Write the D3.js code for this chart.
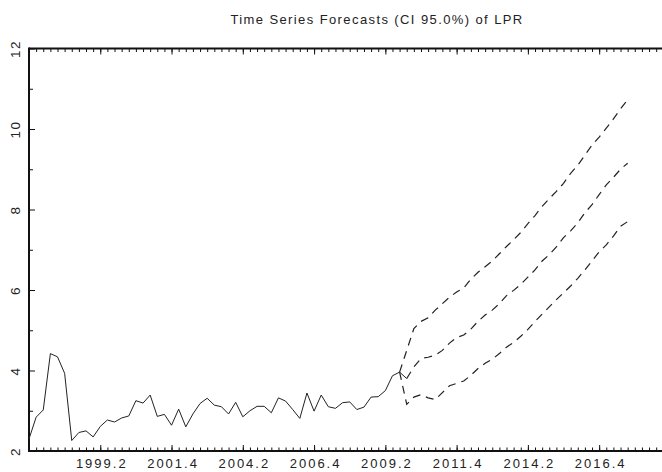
<!DOCTYPE html>
<html><head><meta charset="utf-8">
<script src="https://cdn.jsdelivr.net/npm/d3@7"></script>
<style>
body{margin:0;background:#fff}
svg text{font-family:"Liberation Sans",Arial,sans-serif;fill:#222}
</style>
</head><body><svg id="c" width="662" height="472"></svg>
<script>
// ---- data ----
const title = "Time Series Forecasts (CI 95.0%) of LPR";
const firstYear = 1996, firstQuarter = 4;           // index 0 = 1996.4
const actual = [2.30,2.84,3.02,4.42,4.34,3.93,2.26,2.46,2.50,2.35,
                2.61,2.77,2.72,2.82,2.87,3.25,3.19,3.39,2.86,2.91,
                2.64,3.04,2.60,2.92,3.18,3.31,3.14,3.10,2.92,3.21,
                2.85,3.00,3.11,3.11,2.95,3.32,3.24,3.03,2.81,3.44,
                2.99,3.39,3.10,3.06,3.20,3.22,3.03,3.09,3.34,3.35,
                3.50,3.87,3.96,3.80];
const upperStart = 52;
const upper = [3.96,4.50,5.04,5.22,5.31,5.50,5.66,5.82,5.95,6.05,
               6.27,6.44,6.58,6.72,6.90,7.08,7.25,7.43,7.65,7.85,
               8.08,8.27,8.45,8.65,8.90,9.10,9.35,9.60,9.80,10.02,
               10.25,10.50,10.73];
const meanStart = 53;
const mean = [3.80,4.09,4.30,4.33,4.38,4.50,4.68,4.82,4.88,5.03,
              5.22,5.38,5.50,5.66,5.86,5.99,6.14,6.32,6.50,6.72,
              6.88,7.07,7.30,7.47,7.67,7.92,8.12,8.37,8.61,8.80,
              9.00,9.15];
const lowerStart = 52;
const lower = [3.96,3.16,3.34,3.40,3.32,3.28,3.45,3.62,3.68,3.74,
               3.88,4.05,4.18,4.28,4.42,4.58,4.70,4.85,5.02,5.22,
               5.40,5.58,5.76,5.93,6.10,6.29,6.50,6.72,6.95,7.12,
               7.34,7.58,7.70];
const xTickLabels = ["1999.2","2001.4","2004.2","2006.4","2009.2","2011.4","2014.2","2016.4"];
const yTickLabels = [2,4,6,8,10,12];
const yMinorTicks = [3,5,7,9,11];

// ---- layout ----
const svg = d3.select("#c");
const L = 29, B = 451, T = 48.5;
const x = d3.scaleLinear().domain([0, 90]).range([L, L + 90 * 7.127]);
const y = d3.scaleLinear().domain([2, 12]).range([B, T]);
const labelIndex = s => { const [yr, q] = s.split(".").map(Number); return (yr - firstYear) * 4 + (q - firstQuarter); };
const allQ = d3.range(0, 91);
const majorQ = allQ.filter(i => i % 10 === 0);

// title
svg.append("text").attr("x", 377).attr("y", 24).attr("text-anchor", "middle")
  .style("font-size", "13px").style("letter-spacing", "1.4px").text(title);

// ticks (inward)
function tickGroup(axis, tf){
  const g = svg.append("g").attr("transform", tf).call(axis);
  g.select(".domain").remove();
  g.selectAll("line").attr("stroke", "#111").attr("stroke-width", 1);
  g.selectAll("text").remove();
  return g;
}
tickGroup(d3.axisTop(x).tickValues(allQ).tickSize(3.5), `translate(0,${B})`);
tickGroup(d3.axisTop(x).tickValues(majorQ).tickSize(6), `translate(0,${B})`);
tickGroup(d3.axisBottom(x).tickValues(allQ).tickSize(3.5), `translate(0,${T})`);
tickGroup(d3.axisBottom(x).tickValues(majorQ).tickSize(6), `translate(0,${T})`);
tickGroup(d3.axisRight(y).tickValues(yMinorTicks).tickSize(4), `translate(${L},0)`);
tickGroup(d3.axisRight(y).tickValues(yTickLabels).tickSize(6), `translate(${L},0)`);

// frame
svg.append("line").attr("x1", L).attr("x2", 700).attr("y1", B).attr("y2", B).attr("stroke", "#111").attr("stroke-width", 2);
svg.append("line").attr("x1", L).attr("x2", 700).attr("y1", T).attr("y2", T).attr("stroke", "#111").attr("stroke-width", 2);
svg.append("line").attr("x1", L).attr("x2", L).attr("y1", T - 1).attr("y2", B + 1).attr("stroke", "#111").attr("stroke-width", 2);

// x labels
const xl = svg.append("g").attr("transform", `translate(0,${B})`)
  .call(d3.axisBottom(x).tickValues(xTickLabels.map(labelIndex))
        .tickFormat((d, i) => xTickLabels[i]).tickSize(0).tickPadding(8));
xl.select(".domain").remove();
xl.selectAll("text").style("font-size", "13px").style("letter-spacing", "2px")
  .attr("dx", "1px").attr("fill", "#222").style("font-family", '"Liberation Sans",Arial,sans-serif');

// y labels (rotated)
const yl = svg.append("g").attr("transform", `translate(${L},0)`)
  .call(d3.axisLeft(y).tickValues(yTickLabels).tickSize(0));
yl.select(".domain").remove();
yl.selectAll("text").attr("x", 0).attr("y", -9).attr("dy", 0).attr("text-anchor", "middle")
  .attr("transform", "rotate(-90)").attr("fill", "#222")
  .style("font-size", "13.5px").style("letter-spacing", "1.6px")
  .style("font-family", '"Liberation Sans",Arial,sans-serif');

// series
const line = d3.line().x(d => x(d[0])).y(d => y(d[1]));
const withIdx = (arr, s) => arr.map((v, i) => [s + i, v]);
svg.append("path").datum(withIdx(actual, 0)).attr("d", line)
  .attr("fill", "none").attr("stroke", "#222").attr("stroke-width", 1);
[[upper, upperStart], [mean, meanStart], [lower, lowerStart]].forEach(([arr, s]) => {
  svg.append("path").datum(withIdx(arr, s)).attr("d", line)
    .attr("fill", "none").attr("stroke", "#222").attr("stroke-width", 1.2)
    .attr("stroke-dasharray", "8,6");
});
</script></body></html>
